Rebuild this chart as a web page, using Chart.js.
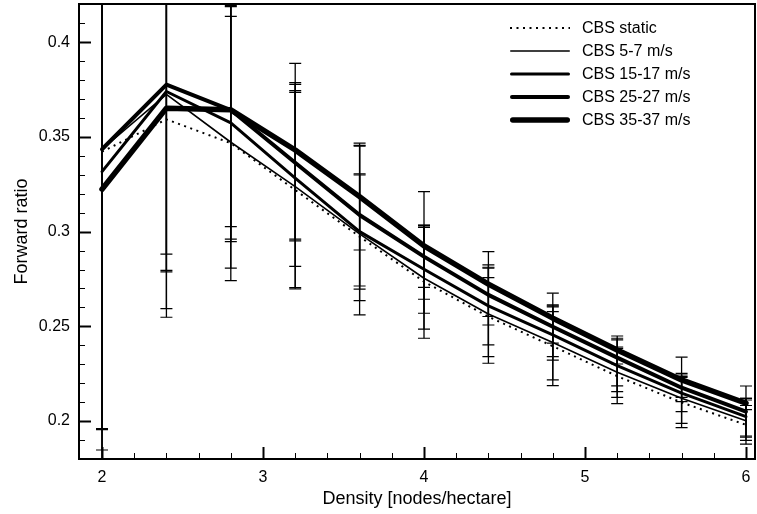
<!DOCTYPE html>
<html><head><meta charset="utf-8">
<script src="https://cdn.jsdelivr.net/npm/chart.js@4"></script>
<style>html,body{margin:0;padding:0;background:#fff}</style>
</head><body>
<canvas id="c" width="757" height="514"></canvas>
<script>
// ---- data ----
const densities = [2, 2.4, 2.8, 3.2, 3.6, 4.0, 4.4, 4.8, 5.2, 5.6, 6.0];

const cbsStatic  = [0.3422, 0.3593, 0.3467, 0.3220, 0.2974, 0.2736, 0.2551, 0.2395, 0.2237, 0.2098, 0.1980];
const cbs5to7    = [0.3435, 0.3725, 0.3472, 0.3238, 0.2988, 0.2754, 0.2565, 0.2415, 0.2258, 0.2120, 0.2002];
const cbs15to17  = [0.3317, 0.3740, 0.3574, 0.3282, 0.3000, 0.2801, 0.2608, 0.2455, 0.2293, 0.2147, 0.2023];
const cbs25to27  = [0.3435, 0.3776, 0.3642, 0.3364, 0.3088, 0.2868, 0.2666, 0.2498, 0.2335, 0.2176, 0.2050];
const cbs35to37  = [0.3224, 0.3652, 0.3643, 0.3431, 0.3185, 0.2925, 0.2723, 0.2543, 0.2375, 0.2217, 0.2094];

// error bar ends (lower / upper)
const staticLow  = [0.1847, 0.2594, 0.2741, 0.2705, 0.2560, 0.2437, 0.2340, 0.2187, 0.2092, 0.1965, 0.1878];
const staticHigh = [0.4997, 0.4592, 0.4193, 0.3735, 0.3455, 0.3035, 0.2757, 0.2603, 0.2384, 0.2231, 0.2082];
const s5Low      = [0.1960, 0.2548, 0.2807, 0.2698, 0.2636, 0.2485, 0.2305, 0.2217, 0.2125, 0.1988, 0.1898];
const s5High     = [0.4910, 0.4902, 0.4137, 0.3778, 0.3305, 0.3023, 0.2812, 0.2613, 0.2391, 0.2252, 0.2111];
const s15Low     = [0.1955, 0.2795, 0.2960, 0.2817, 0.2696, 0.2569, 0.2402, 0.2322, 0.2155, 0.2050, 0.1921];
const s15High    = [0.4679, 0.4685, 0.4188, 0.3745, 0.3299, 0.3033, 0.2807, 0.2578, 0.2428, 0.2243, 0.2120];
const s25Low     = [0.1700, 0.2881, 0.2947, 0.2951, 0.2713, 0.2706, 0.2507, 0.2340, 0.2186, 0.2125, 0.1915];
const s25High    = [0.5170, 0.4671, 0.4337, 0.3787, 0.3452, 0.3030, 0.2825, 0.2608, 0.2437, 0.2235, 0.2185];
const s35Low     = [0.1760, 0.2788, 0.3027, 0.2961, 0.2903, 0.2643, 0.2552, 0.2411, 0.2301, 0.2102, 0.2060];
const s35High    = [0.4688, 0.4516, 0.4259, 0.3889, 0.3467, 0.3211, 0.2894, 0.2675, 0.2449, 0.2337, 0.2120];

const seriesNames = ['CBS static', 'CBS 5-7 m/s', 'CBS 15-17 m/s', 'CBS 25-27 m/s', 'CBS 35-37 m/s'];
const xTickValues = [2, 3, 4, 5, 6];
const yTickValues = [0.2, 0.25, 0.3, 0.35, 0.4];
const xAxisTitle = 'Density [nodes/hectare]';
const yAxisTitle = 'Forward ratio';

// ---- build datasets ----
function pts(vals) { return densities.map((d, i) => ({ x: d, y: vals[i] })); }
const means = [cbsStatic, cbs5to7, cbs15to17, cbs25to27, cbs35to37];
const lows  = [staticLow, s5Low, s15Low, s25Low, s35Low];
const highs = [staticHigh, s5High, s15High, s25High, s35High];
const widths = [2, 1.6, 3, 4, 5.5];

const datasets = means.map((m, i) => ({
  label: seriesNames[i],
  data: pts(m),
  borderColor: '#000',
  backgroundColor: '#000',
  borderWidth: widths[i],
  borderDash: i === 0 ? [2, 4.5] : [],
  borderCapStyle: i === 0 ? 'butt' : 'round',
  borderJoinStyle: 'round',
  pointRadius: 0,
  tension: 0,
  fill: false,
  errLow: lows[i],
  errHigh: highs[i]
}));

const FONT = "'Liberation Sans', Arial, Helvetica, sans-serif";
Chart.defaults.font.family = FONT;
Chart.defaults.color = '#000';

const errorBarPlugin = {
  id: 'errorBars',
  afterDatasetsDraw(chart) {
    const { ctx, chartArea: a, scales: { x, y } } = chart;
    ctx.save();
    ctx.beginPath();
    ctx.rect(a.left, a.top, a.right - a.left, a.bottom - a.top);
    ctx.clip();
    ctx.strokeStyle = '#000';
    chart.data.datasets.forEach(ds => {
      densities.forEach((d, i) => {
        const px = x.getPixelForValue(d);
        const pl = y.getPixelForValue(ds.errLow[i]);
        const ph = y.getPixelForValue(ds.errHigh[i]);
        ctx.lineWidth = 1.3;
        ctx.beginPath();
        ctx.moveTo(px, pl); ctx.lineTo(px, ph);
        ctx.stroke();
        ctx.lineWidth = 1.2;
        ctx.beginPath();
        ctx.moveTo(px - 6, pl); ctx.lineTo(px + 6, pl);
        ctx.moveTo(px - 6, ph); ctx.lineTo(px + 6, ph);
        ctx.stroke();
      });
    });
    ctx.restore();
  }
};

const framePlugin = {
  id: 'frameTicks',
  afterDraw(chart) {
    const { ctx, chartArea: a, scales: { x, y } } = chart;
    ctx.save();
    ctx.strokeStyle = '#000';
    // minor/major ticks on left axis (inward)
    for (let k = Math.ceil(y.min * 100); k <= Math.floor(y.max * 100); k++) {
      const v = k / 100;
      const major = k % 5 === 0;
      const py = Math.round(y.getPixelForValue(v)) + 0.5;
      ctx.lineWidth = major ? 2 : 1;
      ctx.beginPath();
      ctx.moveTo(a.left, py); ctx.lineTo(a.left + (major ? 12 : 6), py);
      ctx.stroke();
    }
    // bottom axis ticks (inward)
    for (let k = Math.ceil(x.min * 5); k <= Math.floor(x.max * 5); k++) {
      const v = k / 5;
      const major = k % 5 === 0;
      const px = Math.round(x.getPixelForValue(v)) + 0.5;
      ctx.lineWidth = major ? 2 : 1;
      ctx.beginPath();
      ctx.moveTo(px, a.bottom); ctx.lineTo(px, a.bottom - (major ? 12 : 6));
      ctx.stroke();
    }
    // frame
    ctx.lineWidth = 2;
    ctx.strokeRect(a.left, a.top, a.right - a.left, a.bottom - a.top);
    ctx.restore();

    // legend
    ctx.save();
    const x0 = a.right - 245, y0 = a.top + 24, dy = 23;
    chart.data.datasets.forEach((ds, i) => {
      const yy = y0 + i * dy;
      ctx.strokeStyle = '#000';
      ctx.lineWidth = ds.borderWidth;
      ctx.setLineDash(ds.borderDash);
      ctx.lineCap = ds.borderCapStyle;
      ctx.beginPath();
      const inset = ds.borderCapStyle === 'round' ? ds.borderWidth / 2 : 0;
      ctx.moveTo(x0 + inset, yy); ctx.lineTo(x0 + 60 - inset, yy);
      ctx.stroke();
      ctx.setLineDash([]);
      ctx.fillStyle = '#000';
      ctx.font = '16px ' + FONT;
      ctx.textBaseline = 'middle';
      ctx.textAlign = 'left';
      ctx.fillText(ds.label, x0 + 72, yy + 1);
    });
    ctx.restore();
  }
};

new Chart(document.getElementById('c'), {
  type: 'line',
  data: { datasets },
  options: {
    responsive: false,
    animation: false,
    devicePixelRatio: 1,
    layout: { padding: { top: 4, right: 2, left: 0, bottom: 0 } },
    plugins: { legend: { display: false }, tooltip: { enabled: false } },
    scales: {
      x: {
        type: 'linear',
        min: 1.857, max: 6.056,
        afterBuildTicks: s => { s.ticks = xTickValues.map(v => ({ value: v })); },
        afterFit: s => { s.height = 55; s.paddingLeft = 0; s.paddingRight = 0; },
        grid: { display: false, drawTicks: false },
        border: { display: false },
        ticks: { font: { size: 16 }, color: '#000', padding: 9, maxRotation: 0, callback: v => String(v) },
        title: { display: true, text: xAxisTitle, font: { size: 18 }, padding: { top: 0, bottom: 4 } }
      },
      y: {
        type: 'linear',
        min: 0.17995, max: 0.4202,
        afterBuildTicks: s => { s.ticks = yTickValues.map(v => ({ value: v })); },
        afterFit: s => { s.width = 79; s.paddingTop = 0; s.paddingBottom = 0; },
        grid: { display: false, drawTicks: false },
        border: { display: false },
        ticks: { font: { size: 16 }, color: '#000', padding: 9, callback: v => String(v) },
        title: { display: true, text: yAxisTitle, font: { size: 18 }, padding: { top: 11, bottom: 0 } }
      }
    }
  },
  plugins: [errorBarPlugin, framePlugin]
});
</script>
</body></html>
